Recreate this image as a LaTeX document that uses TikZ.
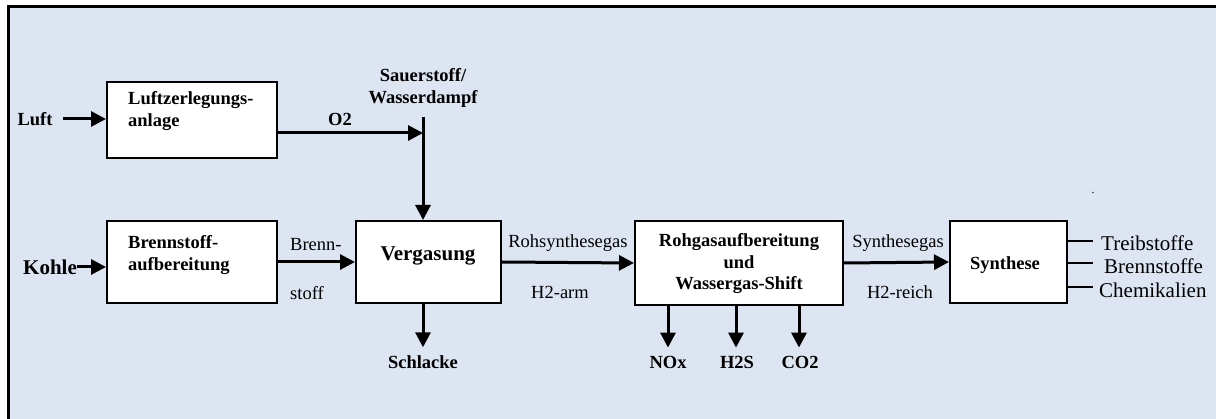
\documentclass[tikz,border=0pt]{standalone}
\usepackage{fontspec}
\setmainfont{Liberation Serif}
\usetikzlibrary{arrows.meta,positioning}
\definecolor{bgblue}{RGB}{220,229,241}

\tikzset{
	block/.style={draw, line width=2pt, fill=white, inner sep=0pt},
	flow/.style={line width=3pt, -{Triangle[length=15pt,width=15pt]}},
	outline/.style={line width=2.5pt},
	lbl/.style={inner sep=0pt, font=\fontsize{18.5}{21.5}\selectfont},
	blbl/.style={inner sep=0pt, font=\fontsize{18.5}{21.5}\selectfont\bfseries},
	big/.style={inner sep=0pt, font=\fontsize{21}{24}\selectfont},
	bigb/.style={inner sep=0pt, font=\fontsize{21}{24}\selectfont\bfseries},
}

\begin{document}
\begin{tikzpicture}[x=1pt,y=-1pt]

	% Background and frame
	\useasboundingbox (0,0) rectangle (1216,419);
	\fill[bgblue] (8,7) rectangle (1216,419);
	\draw[line width=3pt] (8,419) -- (8,7) -- (1216,7);

	% Draw the process blocks
	\node[block, minimum width=170pt, minimum height=76pt] (lza) at (192,120) {};
	\node[block, minimum width=170pt, minimum height=82pt] (bsa) at (192,262) {};
	\node[block, minimum width=145pt, minimum height=82pt] (vg) at (428.5,262) {};
	\node[block, minimum width=208pt, minimum height=84pt] (rga) at (739,263) {};
	\node[block, minimum width=117pt, minimum height=82pt] (syn) at (1008.5,262) {};

	% Texts inside the blocks
	\node[blbl, anchor=west, align=left] (lzatext) at (128,111) {Luftzerlegungs-\\anlage};
	\node[blbl, anchor=west, align=left] (bsatext) at (128,255) {Brennstoff-\\aufbereitung};
	\node[bigb] (vgtext) at (428,256) {Vergasung};
	\node[blbl, align=center] (rgatext) at (739,264) {Rohgasaufbereitung\\und\\Wassergas-Shift};
	\node[blbl] (syntext) at (1005,265) {Synthese};

	% Inputs
	\node[blbl] (luft) at (35,119) {Luft};
	\node[bigb] (kohle) at (50,267) {Kohle};
	\draw[flow] ([xshift=10pt]luft.east) -- (luft.east -| lza.west);
	\draw[flow] (kohle.east) -- (kohle.east -| bsa.west);

	% Oxygen and steam into the gasifier
	\coordinate (mix) at (423,133);
	\coordinate (dampf) at (423,117);
	\node[blbl, align=center] (steam) at (423,88) {Sauerstoff/\\Wasserdampf};
	\draw[flow] (lza.east |- mix) -- (mix);
	\node[blbl] (otwo) at (340,119) {O2};
	\draw[flow] (dampf) -- (dampf |- vg.north);

	% Main gas line
	\draw[flow] (bsa.east) -- (vg.west);
	\draw[flow] (vg.east) -- (rga.west);
	\draw[flow] (rga.east) -- (syn.west);
	\node[lbl, anchor=west] (brenn) at (290,245) {Brenn-};
	\node[lbl, anchor=west] (stoff) at (290,293) {stoff};
	\node[lbl] (rohgas) at (568,243) {Rohsynthesegas};
	\node[lbl] (arm) at (560,292) {H2-arm};
	\node[lbl] (syngas) at (898,243) {Synthesegas};
	\node[lbl] (reich) at (900,292) {H2-reich};

	% Residues
	\node[blbl] (schlacke) at (423,362) {Schlacke};
	\node[blbl] (nox) at (668,362) {NOx};
	\node[blbl] (hts) at (737,362) {H2S};
	\node[blbl] (cot) at (800,362) {CO2};
	\draw[flow] (schlacke.north |- vg.south) -- ([yshift=8pt]schlacke.north);
	\draw[flow] (nox.north |- rga.south) -- ([yshift=8pt]nox.north);
	\draw[flow] ([xshift=-1pt]hts.north |- rga.south) -- ([xshift=-1pt,yshift=8pt]hts.north);
	\draw[flow] ([xshift=-1pt]cot.north |- rga.south) -- ([xshift=-1pt,yshift=8pt]cot.north);

	% Products
	\node[big, anchor=west] (treib) at (1101,243) {Treibstoffe};
	\node[big, anchor=west] (brennst) at (1104,266) {Brennstoffe};
	\node[big, anchor=west] (chem) at (1099,290) {Chemikalien};
	\draw[outline] (syn.east |- 0,241) -- (1093,241);
	\draw[outline] (syn.east |- 0,263) -- (1093,263);
	\draw[outline] (syn.east |- 0,287) -- (1093,287);
	\node[inner sep=0pt, font=\fontsize{12}{12}\selectfont] (dot) at (1093,193) {.};

\end{tikzpicture}
\end{document}
